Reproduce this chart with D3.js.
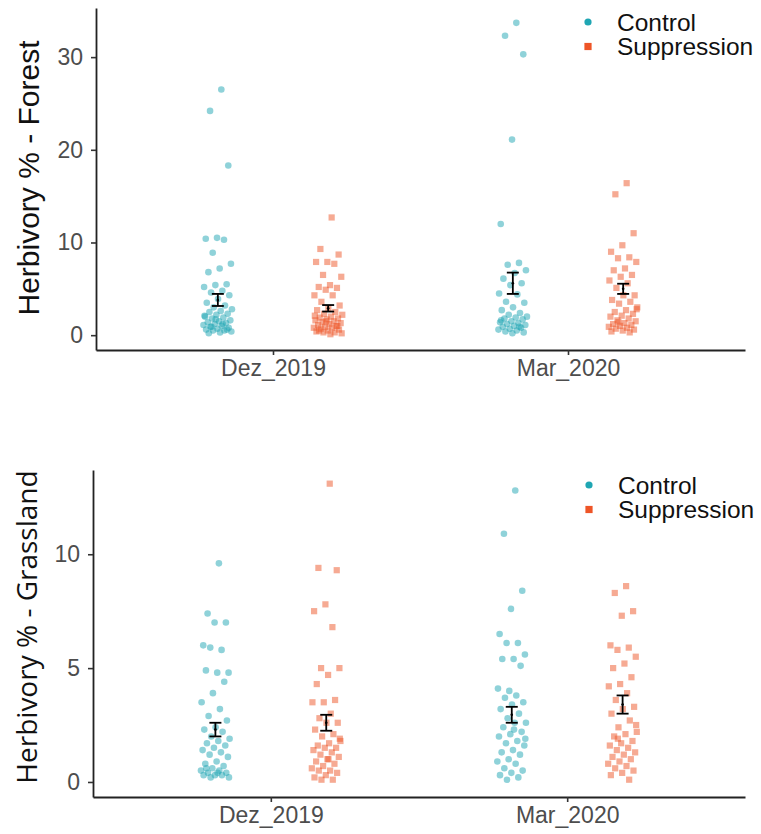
<!DOCTYPE html>
<html>
<head>
<meta charset="utf-8">
<script src="https://cdn.jsdelivr.net/npm/d3@7"></script>
<style>
  body { margin: 0; background: #fff; }
  svg { display: block; }
</style>
</head>
<body>
<svg id="chart" width="761" height="834"></svg>
<script>
const categories = ["Dez_2019", "Mar_2020"];
const groups = ["Control", "Suppression"];

// Forest panel, values
const forestDezControl = [26.5, 24.2, 18.3, 10.5, 10.4, 10.3, 8.9, 7.7, 7.2, 6.8, 5.5, 5.4, 5.2, 4.8, 4.6, 4.3, 3.9, 3.5, 3.2, 3.0, 2.8, 2.6, 2.5, 2.3, 2.2, 2.0, 1.9, 1.8, 1.6, 1.5, 1.4, 1.3, 1.2, 1.1, 1.0, 0.9, 0.8, 0.7, 0.6, 0.5, 0.5, 0.4, 0.3, 0.2, 0.6, 1.7, 2.1, 1.2, 0.9];
const forestDezSuppression = [12.7, 9.3, 8.7, 7.9, 7.9, 7.7, 6.5, 6.3, 5.4, 5.2, 5.1, 4.9, 4.3, 4.3, 3.6, 3.2, 2.9, 2.7, 2.5, 2.3, 2.2, 2.0, 1.9, 1.8, 1.7, 1.6, 1.5, 1.4, 1.3, 1.2, 1.1, 1.0, 0.9, 0.8, 0.8, 0.7, 0.6, 0.5, 0.4, 0.3, 0.3, 0.2, 0.1, 0.5, 1.0, 1.5, 2.1];
const forestMarControl = [33.7, 32.3, 30.3, 21.1, 12.0, 7.8, 7.6, 7.0, 6.7, 6.1, 5.6, 5.4, 4.5, 4.4, 3.6, 3.5, 3.0, 2.7, 2.4, 2.2, 2.0, 1.9, 1.8, 1.7, 1.5, 1.4, 1.3, 1.2, 1.1, 1.0, 0.9, 0.8, 0.7, 0.6, 0.5, 0.4, 0.3, 0.2, 1.6, 0.9];
const forestMarSuppression = [16.4, 15.2, 11.0, 9.7, 9.0, 8.4, 8.3, 7.9, 7.2, 7.0, 6.5, 6.3, 5.9, 5.6, 5.1, 4.3, 4.3, 3.8, 3.6, 3.4, 3.0, 2.7, 2.5, 2.3, 2.1, 2.0, 1.8, 1.6, 1.5, 1.3, 1.2, 1.1, 1.0, 0.9, 0.8, 0.7, 0.6, 0.5, 0.4, 0.3, 1.4, 2.8];
const forestMeanControl = [3.8, 5.6];
const forestMeanSuppression = [2.9, 5.0];
const forestSeControl = [0.65, 1.15];
const forestSeSuppression = [0.35, 0.55];
const forestTicks = [0, 10, 20, 30];

// Grassland panel
const grassDezControl = [9.6, 7.4, 7.0, 7.0, 6.0, 5.8, 5.9, 4.8, 4.8, 4.9, 4.4, 3.9, 3.5, 3.2, 2.9, 2.7, 2.4, 2.3, 2.2, 2.0, 1.9, 1.8, 1.7, 1.6, 1.5, 1.4, 1.3, 1.2, 1.1, 0.9, 0.8, 0.7, 0.6, 0.5, 0.5, 0.4, 0.4, 0.3, 0.3, 0.3, 0.2, 0.2, 0.4, 0.6];
const grassDezSuppression = [13.1, 9.4, 9.3, 7.8, 7.5, 6.8, 5.0, 5.0, 4.7, 4.3, 3.6, 3.5, 3.5, 3.0, 2.8, 2.6, 2.6, 2.3, 2.1, 2.0, 1.8, 1.7, 1.6, 1.5, 1.5, 1.4, 1.3, 1.2, 1.1, 1.0, 0.9, 0.8, 0.7, 0.6, 0.5, 0.5, 0.4, 0.3, 0.2, 0.1, 0.1, 1.9, 1.0];
const grassMarControl = [12.8, 10.9, 8.4, 7.6, 6.5, 6.1, 6.1, 5.6, 5.4, 5.4, 5.1, 4.0, 4.1, 3.8, 3.7, 3.5, 3.4, 3.2, 3.0, 2.8, 2.6, 2.6, 2.4, 2.2, 2.1, 2.0, 1.8, 1.7, 1.6, 1.4, 1.3, 1.2, 1.0, 0.9, 0.8, 0.6, 0.5, 0.4, 0.3, 0.2, 0.1, 1.9, 2.3];
const grassMarSuppression = [8.6, 8.3, 7.5, 7.3, 6.0, 5.9, 5.8, 5.5, 5.2, 5.0, 4.6, 4.3, 4.2, 3.9, 3.6, 3.3, 3.2, 3.0, 2.7, 2.4, 2.2, 2.1, 2.0, 1.8, 1.7, 1.6, 1.5, 1.4, 1.3, 1.2, 1.1, 1.0, 0.9, 0.8, 0.7, 0.6, 0.5, 0.4, 0.3, 0.1, 1.9, 2.5];
const grassMeanControl = [2.3, 2.95];
const grassMeanSuppression = [2.6, 3.4];
const grassSeControl = [0.3, 0.35];
const grassSeSuppression = [0.35, 0.4];
const grassTicks = [0, 5, 10];

const colors = { Control: "#1fa6b3", Suppression: "#ee5527" };
const sans = "Liberation Sans, Arial, sans-serif";

const svg = d3.select("#chart");

function drawPanel(cfg) {
  const g = svg.append("g");

  const x = d3.scalePoint()
    .domain(categories)
    .range([cfg.left, cfg.right])
    .padding(0.6);
  const step = x.step();
  const dodge = { Control: -0.187 * step, Suppression: 0.187 * step };

  const y = d3.scaleLinear()
    .domain(cfg.domain)
    .range([cfg.bottom, cfg.top]);

  // points (deterministic jitter so the cloud keeps its width)
  const pts = [];
  categories.forEach((c, ci) => {
    groups.forEach((grp) => {
      cfg.values[grp][ci].forEach((v, i) => {
        const j = (((i + 1) * 0.6180339887) % 1 - 0.5) * 0.1 * step;
        pts.push({ cat: c, grp, v, j });
      });
    });
  });

  g.selectAll(".pt-c")
    .data(pts.filter((d) => d.grp === "Control"))
    .enter()
    .append("circle")
    .attr("cx", (d) => x(d.cat) + dodge[d.grp] + d.j)
    .attr("cy", (d) => y(d.v))
    .attr("r", 3.3)
    .attr("fill", colors.Control)
    .attr("fill-opacity", 0.5);

  g.selectAll(".pt-s")
    .data(pts.filter((d) => d.grp === "Suppression"))
    .enter()
    .append("rect")
    .attr("x", (d) => x(d.cat) + dodge[d.grp] + d.j - 3.1)
    .attr("y", (d) => y(d.v) - 3.1)
    .attr("width", 6.2)
    .attr("height", 6.2)
    .attr("fill", colors.Suppression)
    .attr("fill-opacity", 0.5);

  // mean +/- se
  const bars = [];
  categories.forEach((c, ci) => {
    groups.forEach((grp) => {
      bars.push({ cat: c, grp, m: cfg.means[grp][ci], se: cfg.ses[grp][ci] });
    });
  });
  const eb = g.selectAll(".eb").data(bars).enter().append("g")
    .attr("stroke", "#000")
    .attr("stroke-width", 1.8);
  eb.append("line")
    .attr("x1", (d) => x(d.cat) + dodge[d.grp])
    .attr("x2", (d) => x(d.cat) + dodge[d.grp])
    .attr("y1", (d) => y(d.m - d.se))
    .attr("y2", (d) => y(d.m + d.se));
  eb.append("line")
    .attr("x1", (d) => x(d.cat) + dodge[d.grp] - 6)
    .attr("x2", (d) => x(d.cat) + dodge[d.grp] + 6)
    .attr("y1", (d) => y(d.m - d.se))
    .attr("y2", (d) => y(d.m - d.se));
  eb.append("line")
    .attr("x1", (d) => x(d.cat) + dodge[d.grp] - 6)
    .attr("x2", (d) => x(d.cat) + dodge[d.grp] + 6)
    .attr("y1", (d) => y(d.m + d.se))
    .attr("y2", (d) => y(d.m + d.se));
  eb.append("circle")
    .attr("cx", (d) => x(d.cat) + dodge[d.grp])
    .attr("cy", (d) => y(d.m))
    .attr("r", 1.3)
    .attr("fill", "#000")
    .attr("stroke", "none");

  // axes
  const yAxis = g.append("g")
    .attr("transform", `translate(${cfg.left},0)`)
    .call(d3.axisLeft(y).tickValues(cfg.ticks).tickSize(5).tickSizeOuter(0).tickPadding(8));
  const xAxis = g.append("g")
    .attr("transform", `translate(0,${cfg.bottom})`)
    .call(d3.axisBottom(x).tickSize(5).tickSizeOuter(0).tickPadding(5));

  [xAxis, yAxis].forEach((a) => {
    a.select(".domain").attr("stroke", "#222").attr("stroke-width", 1.8);
    a.selectAll(".tick line").attr("stroke", "#333").attr("stroke-width", 1.6);
    a.selectAll(".tick text")
      .attr("fill", "#4d4d4d")
      .style("font-family", sans)
      .style("font-size", "23px");
  });

  // y title
  g.append("text")
    .attr("transform", `translate(${cfg.titleX},${cfg.titleY}) rotate(-90)`)
    .attr("text-anchor", "middle")
    .attr("fill", "#111")
    .style("font-family", cfg.titleFont)
    .style("font-size", cfg.titleSize)
    .text(cfg.title);

  // legend
  const lg = g.append("g").attr("transform", `translate(${cfg.legendX},${cfg.legendY})`);
  groups.forEach((grp, i) => {
    const row = lg.append("g").attr("transform", `translate(0,${i * 24.5})`);
    if (grp === "Control") {
      row.append("circle").attr("r", 3.6).attr("fill", colors[grp]);
    } else {
      row.append("rect").attr("x", -3.6).attr("y", -3.6).attr("width", 7.2).attr("height", 7.2)
        .attr("fill", colors[grp]);
    }
    row.append("text")
      .attr("x", 29)
      .attr("dy", "0.35em")
      .attr("fill", "#111")
      .style("font-family", sans)
      .style("font-size", "24.5px")
      .text(grp);
  });
}

drawPanel({
  left: 96, right: 745, top: 8, bottom: 350,
  domain: [-1.6, 35.3],
  ticks: forestTicks,
  values: {
    Control: [forestDezControl, forestMarControl],
    Suppression: [forestDezSuppression, forestMarSuppression],
  },
  means: { Control: forestMeanControl, Suppression: forestMeanSuppression },
  ses: { Control: forestSeControl, Suppression: forestSeSuppression },
  title: "Herbivory % - Forest",
  titleX: 39, titleY: 178,
  titleFont: sans,
  titleSize: "30px",
  legendX: 588, legendY: 22,
});

drawPanel({
  left: 93, right: 745, top: 470, bottom: 797,
  domain: [-0.66, 13.7],
  ticks: grassTicks,
  values: {
    Control: [grassDezControl, grassMarControl],
    Suppression: [grassDezSuppression, grassMarSuppression],
  },
  means: { Control: grassMeanControl, Suppression: grassMeanSuppression },
  ses: { Control: grassSeControl, Suppression: grassSeSuppression },
  title: "Herbivory % -  Grassland",
  titleX: 37, titleY: 627,
  titleFont: "Open Sans, sans-serif",
  titleSize: "28px",
  legendX: 589, legendY: 485,
});
</script>
</body>
</html>
